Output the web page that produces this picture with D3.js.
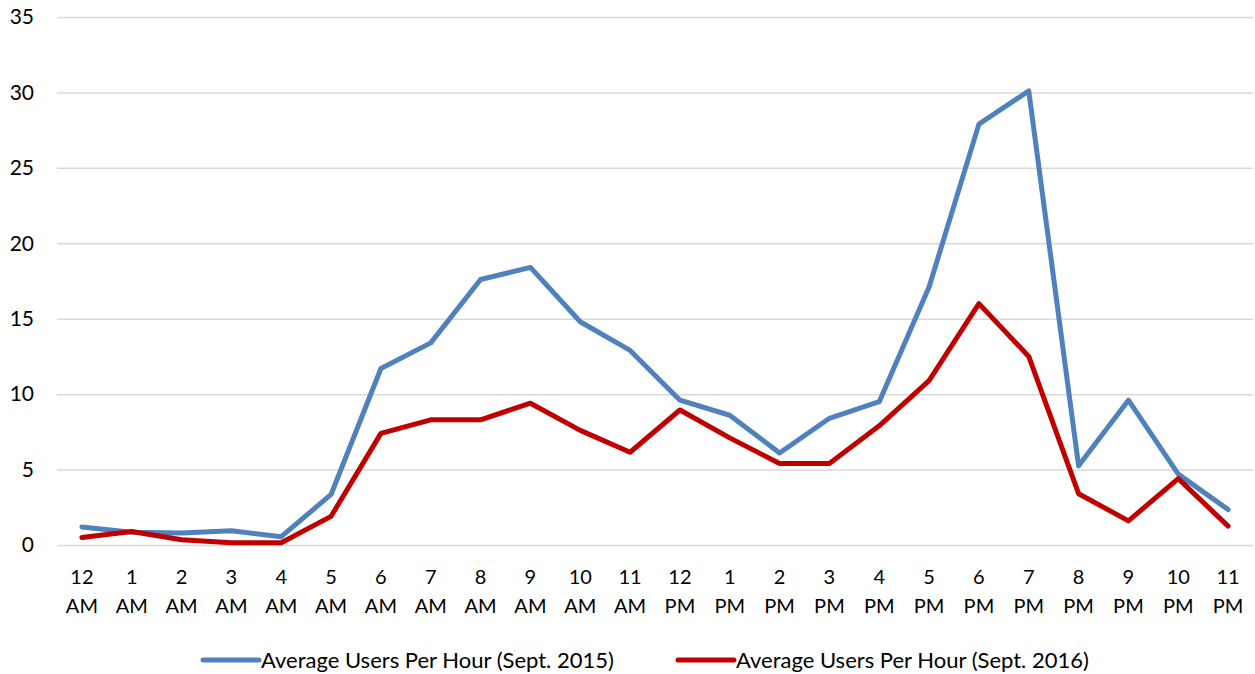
<!DOCTYPE html>
<html>
<head>
  <title>Average Users Per Hour</title>
  <script src="https://d3js.org/d3.v7.min.js"></script>
  <style>
    body { margin: 0; background: #fff; }
    svg { display: block; }
    text { font-family: Lato, "Open Sans", sans-serif; fill: #000; }
  </style>
</head>
<body>
  <script>
    // hour labels, two lines each
    const hours = ["12", "1", "2", "3", "4", "5", "6", "7", "8", "9", "10", "11",
                   "12", "1", "2", "3", "4", "5", "6", "7", "8", "9", "10", "11"];
    const periods = ["AM", "AM", "AM", "AM", "AM", "AM", "AM", "AM", "AM", "AM", "AM", "AM",
                     "PM", "PM", "PM", "PM", "PM", "PM", "PM", "PM", "PM", "PM", "PM", "PM"];

    const users2015 = [1.2, 0.85, 0.8, 0.95, 0.55, 3.35, 11.7, 13.4, 17.6, 18.4, 14.8, 12.9,
                       9.6, 8.6, 6.1, 8.4, 9.5, 17.1, 27.9, 30.1, 5.25, 9.6, 4.7, 2.35];
    const users2016 = [0.5, 0.9, 0.35, 0.15, 0.15, 1.9, 7.4, 8.3, 8.3, 9.4, 7.6, 6.15,
                       8.95, 7.1, 5.4, 5.4, 7.9, 10.9, 16.0, 12.5, 3.4, 1.6, 4.4, 1.25];

    const yTicks = [0, 5, 10, 15, 20, 25, 30, 35];

    const series = [
      { name: "Average Users Per Hour (Sept. 2015)", values: users2015, color: "#4F81BD" },
      { name: "Average Users Per Hour (Sept. 2016)", values: users2016, color: "#C00000" }
    ];

    const W = 1255, H = 674;
    const margin = { top: 17, right: 2, bottom: 129, left: 57 };
    const width = W - margin.left - margin.right;
    const height = H - margin.top - margin.bottom;

    const svg = d3.select("body")
      .append("svg")
      .attr("width", W)
      .attr("height", H);

    const g = svg.append("g")
      .attr("transform", `translate(${margin.left},${margin.top})`);

    const x = d3.scaleBand()
      .domain(d3.range(hours.length))
      .range([0, width]);

    const y = d3.scaleLinear()
      .domain([0, 35])
      .range([height, 0]);

    // gridlines
    g.append("g")
      .selectAll("line")
      .data(yTicks)
      .join("line")
      .attr("x1", 0)
      .attr("x2", width)
      .attr("y1", d => y(d) + 0.5)
      .attr("y2", d => y(d) + 0.5)
      .attr("stroke", "#D9D9D9")
      .attr("stroke-width", 1.5);

    // y axis labels
    const yAxis = g.append("g")
      .call(d3.axisLeft(y).tickValues(yTicks).tickSize(0).tickPadding(23));
    yAxis.select(".domain").remove();
    yAxis.selectAll("text")
      .style("font-size", "21px")
      .style("font-family", "Lato, 'Open Sans', sans-serif");

    // x axis labels
    const xAxis = g.append("g")
      .attr("transform", `translate(0,${height})`)
      .call(d3.axisBottom(x).tickSize(0).tickFormat(() => ""));
    xAxis.select(".domain").remove();
    xAxis.selectAll(".tick text").remove();
    xAxis.selectAll(".tick").append("text")
      .attr("text-anchor", "middle")
      .style("font-size", "20px")
      .style("font-family", "Lato, 'Open Sans', sans-serif")
      .attr("fill", "#000")
      .call(t => t.append("tspan").attr("x", 0).attr("y", 39).text(i => hours[i]))
      .call(t => t.append("tspan").attr("x", 0).attr("y", 68).text(i => periods[i]));

    // lines
    const line = d3.line()
      .x((d, i) => x(i) + x.bandwidth() / 2)
      .y(d => y(d));

    series.forEach(s => {
      g.append("path")
        .datum(s.values)
        .attr("fill", "none")
        .attr("stroke", s.color)
        .attr("stroke-width", 5)
        .attr("stroke-linejoin", "round")
        .attr("stroke-linecap", "round")
        .attr("d", line);
    });

    // legend
    const legendX = [203, 678];
    const legend = svg.append("g")
      .attr("transform", "translate(0,660)");
    series.forEach((s, i) => {
      legend.append("line")
        .attr("x1", legendX[i])
        .attr("x2", legendX[i] + 56)
        .attr("y1", 0)
        .attr("y2", 0)
        .attr("stroke", s.color)
        .attr("stroke-width", 5)
        .attr("stroke-linecap", "round");
      legend.append("text")
        .attr("x", legendX[i] + 58)
        .attr("y", 7.5)
        .style("font-size", "22px")
        .text(s.name);
    });
  </script>
</body>
</html>
